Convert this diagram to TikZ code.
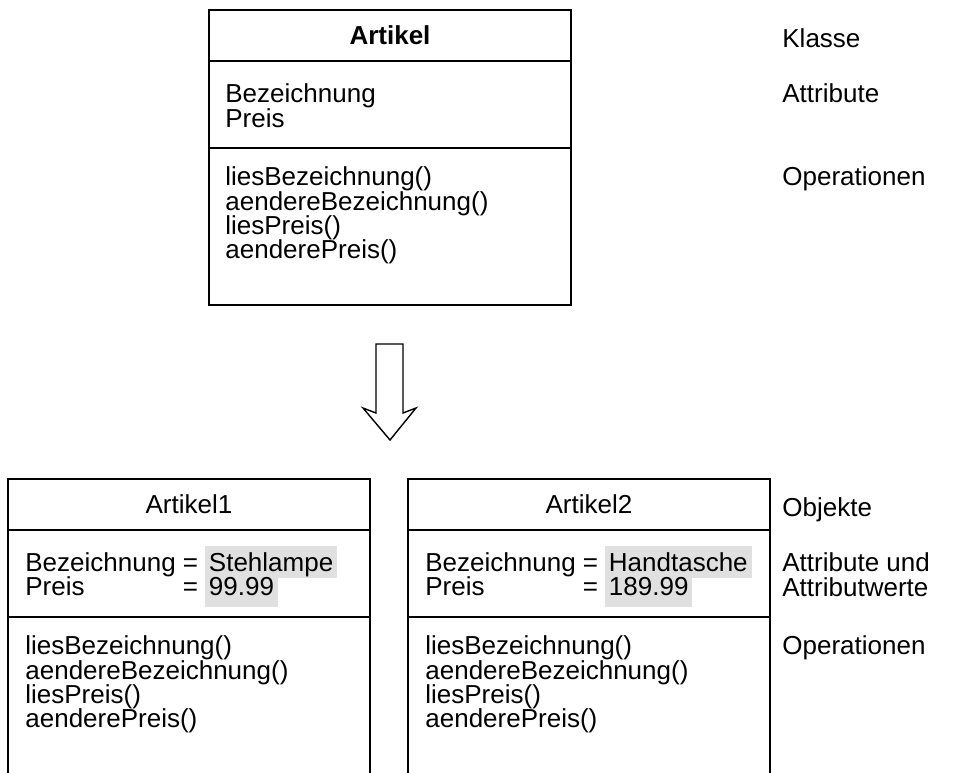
\documentclass[tikz,border=0pt]{standalone}
\usepackage{fontspec}
\setmainfont{Liberation Sans}
\usetikzlibrary{positioning}
\definecolor{hl}{RGB}{224,224,224}

\begin{document}
\begin{tikzpicture}[x=0.5pt,y=-0.5pt,font=\fontsize{13pt}{12.15pt}\selectfont,
  comp/.style={draw,line width=0.7pt,minimum width=181pt,inner sep=0pt,outer sep=0pt},
  txt/.style={anchor=north west,align=left,inner sep=0pt},
  line/.style={anchor=base west,inner sep=0pt},
  val/.style={anchor=base west,fill=hl,inner xsep=2pt,inner ysep=0pt}]
  \useasboundingbox (0,0) rectangle (959,772);

  % Klasse
  \node[comp,minimum height=25.5pt,anchor=north] (k-name) at (390,10) {\textbf{Artikel}};
  \node[comp,minimum height=43.5pt,below=0pt of k-name] (k-attr) {};
  \node[comp,minimum height=78.5pt,below=0pt of k-attr] (k-ops) {};
  \node[txt] (k-attrtxt) at (225,83.5) {Bezeichnung\\Preis};
  \node[txt] (k-opstxt) at (225,166.5) {liesBezeichnung()\\aendereBezeichnung()\\liesPreis()\\aenderePreis()};

  % Pfeil
  \draw[line width=0.7pt] (376,344) -- (376,413) -- (363,408) -- (390,440)
    -- (416,408) -- (403,413) -- (403,344) -- cycle;

  % Objekte
  \node[comp,minimum height=25.5pt,anchor=north] (o1-name) at (189,479) {Artikel1};
  \node[comp,minimum height=43.5pt,below=0pt of o1-name] (o1-attr) {};
  \node[comp,minimum height=78.5pt,below=0pt of o1-attr] (o1-ops) {};
  \node[line] (o1-bez) at (25,571.5) {Bezeichnung =};
  \node[line] (o1-pr) at (25,595.5) {\rlap{Preis}\phantom{Bezeichnung} =};
  \node[val,text height=13pt,text depth=3.25pt] (o1-v1) at ([xshift=3pt]o1-bez.base east) {Stehlampe\hspace{2pt}};
  \node[val,text height=8.75pt,text depth=5.75pt] (o1-v2) at ([xshift=3pt]o1-pr.base east) {99.99\hspace{1pt}};
  \node[txt] (o1-opstxt) at (25,635.5) {liesBezeichnung()\\aendereBezeichnung()\\liesPreis()\\aenderePreis()};

  \node[comp,minimum height=25.5pt,anchor=north] (o2-name) at (589,479) {Artikel2};
  \node[comp,minimum height=43.5pt,below=0pt of o2-name] (o2-attr) {};
  \node[comp,minimum height=78.5pt,below=0pt of o2-attr] (o2-ops) {};
  \node[line] (o2-bez) at (425,571.5) {Bezeichnung =};
  \node[line] (o2-pr) at (425,595.5) {\rlap{Preis}\phantom{Bezeichnung} =};
  \node[val,text height=13pt,text depth=3.25pt] (o2-v1) at ([xshift=3pt]o2-bez.base east) {Handtasche\hspace{2pt}};
  \node[val,text height=8.75pt,text depth=5.75pt] (o2-v2) at ([xshift=3pt]o2-pr.base east) {189.99\hspace{1pt}};
  \node[txt] (o2-opstxt) at (425,635.5) {liesBezeichnung()\\aendereBezeichnung()\\liesPreis()\\aenderePreis()};

  % Beschriftung rechts
  \node[txt] (l-klasse) at (782,28.5) {Klasse};
  \node[txt] (l-attr) at (782,83.5) {Attribute};
  \node[txt] (l-ops) at (782,166.5) {Operationen};
  \node[txt] (l-obj) at (782,497.5) {Objekte};
  \node[txt] (l-werte) at (782,552.5) {Attribute und\\Attributwerte};
  \node[txt] (l-ops2) at (782,635.5) {Operationen};
\end{tikzpicture}
\end{document}
